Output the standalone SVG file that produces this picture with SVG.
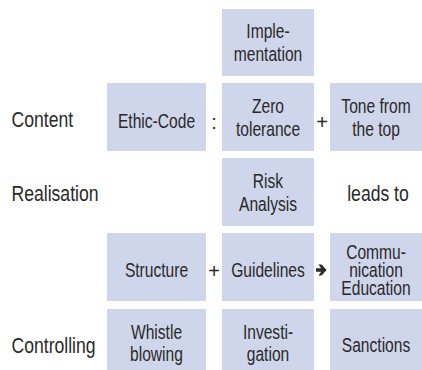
<svg xmlns="http://www.w3.org/2000/svg" width="422" height="370" viewBox="0 0 422 370">
<style>
.box{fill:#cfd5ea}
text{font-family:"Liberation Sans",Arial,sans-serif;fill:#2a2a2a}
.t{font-size:19.5px;text-anchor:middle;transform-box:fill-box;transform-origin:center;transform:scaleX(0.8)}
.lab{font-size:22px;transform-box:fill-box;transform-origin:left center;transform:scaleX(0.8)}
.labc{font-size:22px;text-anchor:middle;transform-box:fill-box;transform-origin:center;transform:scaleX(0.8)}
.op{font-size:20px;text-anchor:middle}
.arr{fill:#2a2a2a}
</style>
<rect width="422" height="370" fill="#ffffff"/>
<g id="labels">
<text class="lab" x="11.5" y="127">Content</text>
<text class="lab" x="11.5" y="201">Realisation</text>
<text class="lab" x="11.5" y="353">Controlling</text>
<text class="labc" x="378" y="201">leads to</text>
</g>
<g id="implementation"><rect class="box" x="222" y="9" width="92" height="67"/><text class="t" x="268" y="38.5">Imple-</text><text class="t" x="268" y="61">mentation</text></g>
<g id="ethic-code"><rect class="box" x="107" y="83" width="99" height="68"/><text class="t" x="156.5" y="128">Ethic-Code</text></g>
<g id="zero-tolerance"><rect class="box" x="222" y="83" width="92" height="68"/><text class="t" x="268" y="113">Zero</text><text class="t" x="268" y="136">tolerance</text></g>
<g id="tone"><rect class="box" x="330" y="83" width="92" height="68"/><text class="t" x="376" y="113">Tone from</text><text class="t" x="376" y="136">the top</text></g>
<g id="risk"><rect class="box" x="222" y="158" width="92" height="68"/><text class="t" x="268" y="188">Risk</text><text class="t" x="268" y="211">Analysis</text></g>
<g id="structure"><rect class="box" x="107" y="233" width="99" height="68"/><text class="t" x="156.5" y="277">Structure</text></g>
<g id="guidelines"><rect class="box" x="222" y="233" width="92" height="68"/><text class="t" x="268" y="277">Guidelines</text></g>
<g id="communication"><rect class="box" x="330" y="233" width="92" height="68"/><text class="t" x="376" y="259">Commu-</text><text class="t" x="376" y="277">nication</text><text class="t" x="376" y="295">Education</text></g>
<g id="whistle"><rect class="box" x="107" y="309" width="99" height="68"/><text class="t" x="156.5" y="339">Whistle</text><text class="t" x="156.5" y="361">blowing</text></g>
<g id="investigation"><rect class="box" x="222" y="309" width="92" height="68"/><text class="t" x="268" y="339">Investi-</text><text class="t" x="268" y="361">gation</text></g>
<g id="sanctions"><rect class="box" x="330" y="309" width="92" height="68"/><text class="t" x="376" y="352">Sanctions</text></g>
<g id="connectors">
<text class="op" x="214" y="129">:</text>
<text class="op" x="322" y="129">+</text>
<text class="op" x="214" y="278">+</text>
<path class="arr" d="M316 268.2H321.2L318.4 264.6H321.6L326.6 270L321.6 275.4H318.4L321.2 271.8H316Z"/>
</g>
</svg>
